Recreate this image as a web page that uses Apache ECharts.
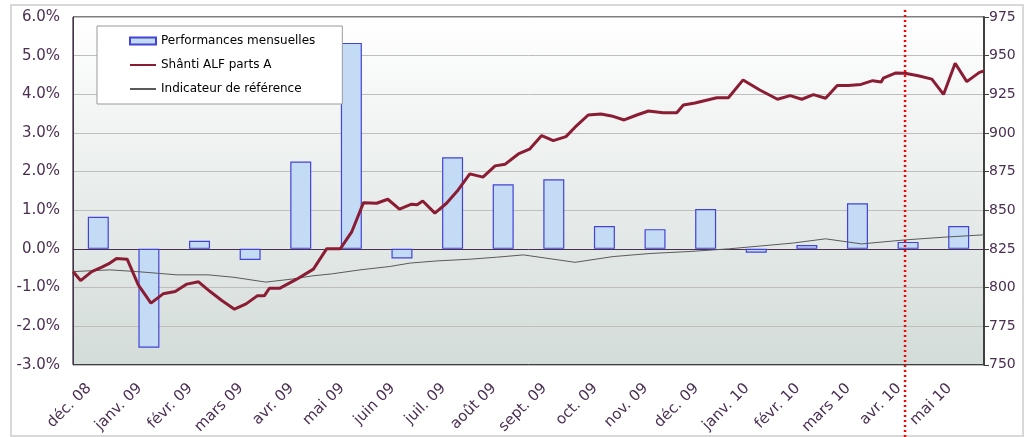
<!DOCTYPE html>
<html>
<head>
<meta charset="utf-8">
<script src="https://cdn.jsdelivr.net/npm/echarts@6/dist/echarts.min.js"></script>
<style>
html,body{margin:0;padding:0;background:#fff;}
#c{width:1034px;height:437px;}
</style>
</head>
<body>
<div id="c"></div>
<script>
// Categories (months)
const months = ['déc. 08','janv. 09','févr. 09','mars 09','avr. 09','mai 09','juin 09','juil. 09','août 09','sept. 09','oct. 09','nov. 09','déc. 09','janv. 10','févr. 10','mars 10','avr. 10','mai 10'];
// Monthly performance (%)
const monthlyPerf = [0.83, -2.56, 0.21, -0.29, 2.26, 5.33, -0.25, 2.37, 1.67, 1.80, 0.59, 0.51, 1.03, -0.10, 0.10, 1.18, 0.18, 0.59];
// Fund NAV (Shânti ALF parts A): time in months since start of déc. 08, value
const fundT = [0, 0.15, 0.37, 0.57, 0.73, 0.86, 1.07, 1.29, 1.54, 1.78, 2.02, 2.25, 2.48, 2.71, 2.94, 3.19, 3.42, 3.64, 3.78, 3.88, 4.09, 4.42, 4.75, 5.01, 5.28, 5.51, 5.74, 6.00, 6.22, 6.45, 6.69, 6.80, 6.91, 7.15, 7.38, 7.61, 7.84, 8.10, 8.34, 8.54, 8.80, 9.02, 9.26, 9.49, 9.74, 9.92, 10.18, 10.43, 10.64, 10.89, 11.14, 11.37, 11.66, 11.93, 12.06, 12.29, 12.72, 12.95, 13.24, 13.57, 13.92, 14.17, 14.40, 14.63, 14.87, 15.10, 15.32, 15.57, 15.80, 15.97, 16.01, 16.26, 16.44, 16.70, 16.97, 17.20, 17.43, 17.66, 17.91, 18.0];
const fundNav = [810.3, 804.5, 810.3, 813.2, 815.8, 818.7, 818.3, 801.7, 789.9, 795.9, 797.4, 802.2, 803.7, 797.4, 791.6, 786.0, 789.4, 794.6, 794.6, 799.5, 799.6, 805.4, 811.9, 825.0, 825.0, 836.2, 854.9, 854.5, 857.1, 850.7, 853.9, 853.5, 856.0, 848.1, 854.5, 863.1, 873.5, 871.4, 878.7, 879.8, 886.4, 889.5, 898.3, 895.0, 897.6, 903.7, 911.6, 912.3, 911.0, 908.4, 911.6, 914.2, 913.1, 913.1, 918.1, 919.4, 922.8, 922.8, 934.3, 927.8, 921.8, 924.1, 921.8, 924.8, 922.4, 930.7, 930.7, 931.4, 933.8, 933.0, 935.4, 938.8, 938.6, 937.0, 934.8, 924.9, 945.1, 933.2, 939.2, 940.1];
// Benchmark (Indicateur de référence)
const benchT = [0, 0.73, 1.26, 2.05, 2.67, 3.18, 3.81, 4.34, 4.72, 5.11, 5.67, 6.26, 6.66, 7.19, 7.84, 8.37, 8.90, 9.92, 10.67, 11.40, 12.19, 12.95, 14.21, 14.87, 15.58, 16.44, 17.23, 18.0];
const benchNav = [810.3, 811.4, 810.3, 808.2, 808.2, 806.6, 803.5, 805.5, 807.5, 808.8, 811.4, 813.6, 815.8, 817.2, 818.3, 819.6, 821.1, 816.3, 820.0, 822.0, 823.3, 825.0, 828.7, 831.5, 828.2, 830.8, 832.6, 834.1];
// Reference date marker (months since start)
const markerT = [16.44];
// Axis ticks
const leftTicks = {min: -3, max: 6, step: 1};
const rightTicks = {min: 750, max: 975, step: 25};

const fundData = fundT.map((t, i) => [t, fundNav[i]]);
const benchData = benchT.map((t, i) => [t, benchNav[i]]);

const chart = echarts.init(document.getElementById('c'), null, {renderer: 'canvas'});
const labelColor = '#4B2F52';
const FONT = 'DejaVu Sans, Verdana, sans-serif';

chart.setOption({
  animation: false,
  backgroundColor: '#ffffff',
  grid: {
    left: 73, right: 50, top: 17, bottom: 72,
    show: true,
    borderWidth: 1,
    borderColor: '#000000',
    backgroundColor: {
      type: 'linear', x: 0, y: 0, x2: 0, y2: 1,
      colorStops: [{offset: 0, color: '#FFFFFF'}, {offset: 1, color: '#D3DCD8'}]
    }
  },
  legend: {
    orient: 'vertical',
    left: 97, top: 26,
    backgroundColor: '#ffffff',
    borderColor: '#9A9A9A',
    borderWidth: 1,
    padding: [8, 27, 8, 32],
    itemGap: 10,
    itemWidth: 26,
    itemHeight: 7,
    textStyle: {fontFamily: FONT, fontSize: 12, color: '#000', lineHeight: 14},
    data: [
      {name: 'Performances mensuelles', icon: 'rect'},
      {name: 'Shânti ALF parts A', itemStyle: {opacity: 0}},
      {name: 'Indicateur de référence', itemStyle: {opacity: 0}}
    ]
  },
  xAxis: [
    {
      type: 'category',
      data: months,
      boundaryGap: true,
      axisLine: {show: true, lineStyle: {color: '#4B2F52', width: 1}},
      axisTick: {show: false},
      axisLabel: {
        rotate: 45, interval: 0, margin: 12,
        color: labelColor, fontFamily: FONT, fontSize: 15,
        padding: [0, 13, 0, 0]
      },
      splitLine: {show: false}
    },
    {
      type: 'value', min: 0, max: 18, show: false
    }
  ],
  yAxis: [
    {
      type: 'value', position: 'left',
      min: leftTicks.min, max: leftTicks.max, interval: leftTicks.step,
      axisLine: {show: true, lineStyle: {color: '#4B2F52', width: 1}},
      axisTick: {show: false},
      axisLabel: {margin: 13, color: labelColor, fontFamily: FONT, fontSize: 15,
        formatter: v => v.toFixed(1) + '%'},
      splitLine: {show: true, lineStyle: {color: '#BEBEBE', width: 1}}
    },
    {
      type: 'value', position: 'right',
      min: rightTicks.min, max: rightTicks.max, interval: rightTicks.step,
      axisLine: {show: true, lineStyle: {color: '#404040', width: 2}},
      axisTick: {show: true, length: 5, lineStyle: {color: '#404040', width: 1}},
      axisLabel: {margin: 5, color: labelColor, fontFamily: FONT, fontSize: 14},
      splitLine: {show: false}
    }
  ],
  series: [
    {
      name: 'Performances mensuelles',
      type: 'bar',
      xAxisIndex: 0, yAxisIndex: 0,
      data: monthlyPerf,
      barWidth: 21,
      itemStyle: {color: '#C3DBF4', borderColor: '#4343D8', borderWidth: 1.2},
      z: 2
    },
    {
      name: 'Shânti ALF parts A',
      type: 'line',
      xAxisIndex: 1, yAxisIndex: 1,
      data: fundData,
      symbol: 'none',
      lineStyle: {color: '#8A1D33', width: 3},
      itemStyle: {color: '#8A1D33'},
      z: 4
    },
    {
      name: 'Indicateur de référence',
      type: 'line',
      xAxisIndex: 1, yAxisIndex: 1,
      data: benchData,
      symbol: 'none',
      lineStyle: {color: '#5A5A5A', width: 1},
      itemStyle: {color: '#5A5A5A'},
      z: 3
    }
  ]
});

const mx = chart.convertToPixel({xAxisIndex: 1}, markerT[0]);
chart.setOption({
  graphic: [
    {
      type: 'rect', silent: true, z: 0,
      shape: {x: 11, y: 5, width: 1012, height: 431},
      style: {fill: null, stroke: '#D8D8D8', lineWidth: 2}
    },
    {
      type: 'line', silent: true, z: 100,
      shape: {x1: mx, y1: 10, x2: mx, y2: 437},
      style: {stroke: '#FF0000', lineWidth: 2.5, lineDash: [2, 3]}
    }
  ]
});
</script>
</body>
</html>
